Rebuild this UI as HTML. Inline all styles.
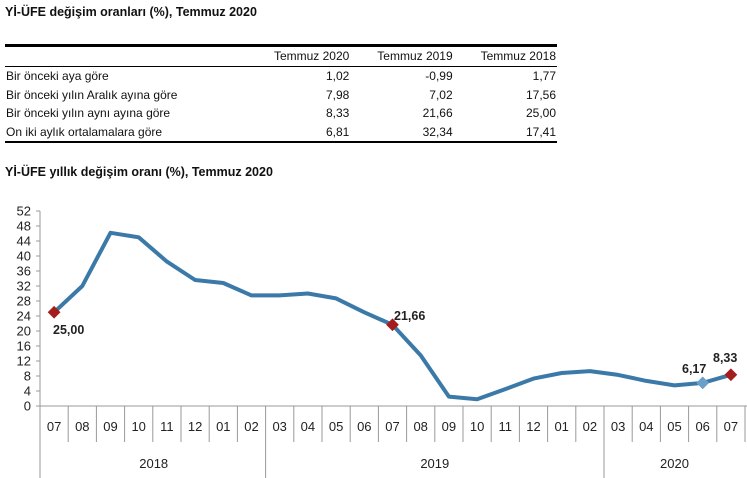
<!DOCTYPE html><html><head><style>
body{margin:0;width:747px;height:478px;background:#fff;font-family:"Liberation Sans",sans-serif;color:#111;position:relative;overflow:hidden}
.t{position:absolute;font-weight:bold;font-size:12.5px}
table{position:absolute;left:5px;top:44px;width:552px;border-collapse:collapse;font-size:12px}
td{padding:0 1px;height:18.7px}
td.n{text-align:right}
</style></head><body>
<div class="t" style="left:5px;top:5px">Yİ-ÜFE değişim oranları (%), Temmuz 2020</div>
<table style="border-top:3px solid #000;border-bottom:2px solid #000">
<tr style="border-bottom:1px solid #000"><td style="width:240px"></td><td class="n">Temmuz 2020</td><td class="n">Temmuz 2019</td><td class="n">Temmuz 2018</td></tr>
<tr><td>Bir önceki aya göre</td><td class="n">1,02</td><td class="n">-0,99</td><td class="n">1,77</td></tr>
<tr><td>Bir önceki yılın Aralık ayına göre</td><td class="n">7,98</td><td class="n">7,02</td><td class="n">17,56</td></tr>
<tr><td>Bir önceki yılın aynı ayına göre</td><td class="n">8,33</td><td class="n">21,66</td><td class="n">25,00</td></tr>
<tr><td>On iki aylık ortalamalara göre</td><td class="n">6,81</td><td class="n">32,34</td><td class="n">17,41</td></tr>
</table>
<div class="t" style="left:5px;top:165px">Yİ-ÜFE yıllık değişim oranı (%), Temmuz 2020</div>
<svg width="747" height="478" style="position:absolute;left:0;top:0" font-family="Liberation Sans,sans-serif">
<g id="g"></g>
</svg>
<script>
var s='',x0=40,w=28.2,y0=406,k=3.75;
s+='<line x1="40" y1="211" x2="40" y2="478" stroke="#999"/><line x1="40" y1="406" x2="747" y2="406" stroke="#999"/>';
for(var v=0;v<=52;v+=4){var y=y0-v*k;s+='<line x1="36" y1="'+y+'" x2="40" y2="'+y+'" stroke="#999"/><text x="31" y="'+(y+4.5)+'" font-size="13" text-anchor="end" fill="#222">'+v+'</text>';}
var m=['07','08','09','10','11','12','01','02','03','04','05','06','07','08','09','10','11','12','01','02','03','04','05','06','07'];
for(var i=0;i<25;i++){var cx=x0+w*i+w/2;s+='<text x="'+cx+'" y="431" font-size="13" text-anchor="middle" fill="#222">'+m[i]+'</text>';var lx=x0+w*(i+1);var long=(i==7||i==19);s+='<line x1="'+lx+'" y1="406" x2="'+lx+'" y2="'+(long?478:442)+'" stroke="#999"/>';}
s+='<text x="'+(x0+w*3.5+15)+'" y="468" font-size="13" text-anchor="middle" fill="#222">2018</text>';
s+='<text x="'+(x0+w*14)+'" y="468" font-size="13" text-anchor="middle" fill="#222">2019</text>';
s+='<text x="'+(x0+w*22.5)+'" y="468" font-size="13" text-anchor="middle" fill="#222">2020</text>';
var d=[25,32,46.2,45,38.5,33.6,32.8,29.5,29.5,30,28.7,25,21.66,13.5,2.5,1.8,4.5,7.3,8.8,9.3,8.3,6.7,5.5,6.17,8.33];
var p=d.map(function(v,i){return (x0+w*i+w/2).toFixed(1)+','+(y0-v*k).toFixed(1)}).join(' ');
s+='<polyline points="'+p+'" fill="none" stroke="#3b7aa8" stroke-width="4" stroke-linejoin="round"/>';
function dia(i,c){var cx=x0+w*i+w/2,cy=y0-d[i]*k;return '<rect x="'+(cx-4.5)+'" y="'+(cy-4.5)+'" width="9" height="9" fill="'+c+'" transform="rotate(45 '+cx+' '+cy+')"/>';}
s+=dia(0,'#a31d1d')+dia(12,'#a31d1d')+dia(23,'#6a9fc8')+dia(24,'#a31d1d');
function lb(t,x,y){return '<text x="'+x+'" y="'+y+'" font-size="12.5" font-weight="bold" fill="#222">'+t+'</text>';}
s+=lb('25,00',53,334)+lb('21,66',394,320)+lb('6,17',682,373)+lb('8,33',713,362);
document.getElementById('g').innerHTML=s;
</script>
</body></html>
